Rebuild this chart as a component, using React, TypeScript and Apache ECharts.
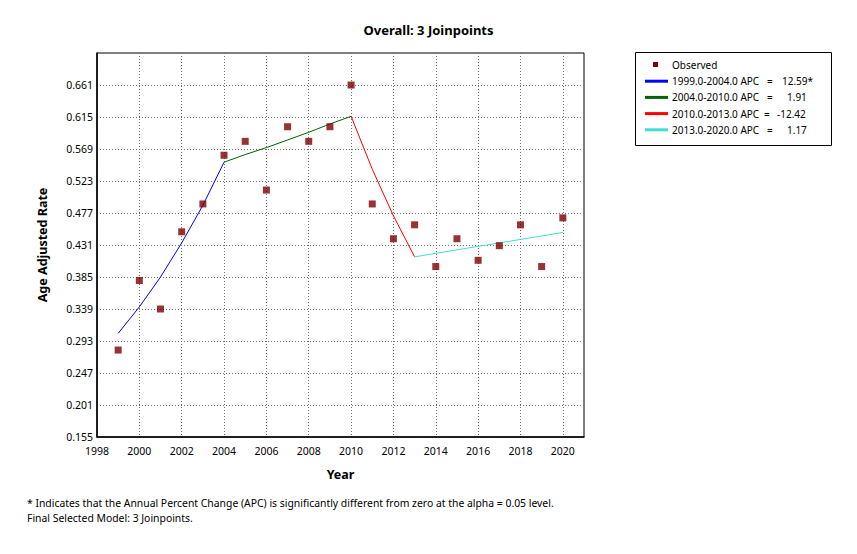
import React, { useEffect, useRef } from "react";
import * as echarts from "echarts";

const years = [1999, 2000, 2001, 2002, 2003, 2004, 2005, 2006, 2007, 2008, 2009, 2010, 2011, 2012, 2013, 2014, 2015, 2016, 2017, 2018, 2019, 2020];
const observed = [0.280, 0.380, 0.339, 0.450, 0.490, 0.560, 0.580, 0.510, 0.601, 0.580, 0.601, 0.661, 0.490, 0.440, 0.460, 0.400, 0.440, 0.409, 0.430, 0.460, 0.400, 0.470];

const seg1Years = [1999, 2000, 2001, 2002, 2003, 2004];
const seg1Fit = [0.304, 0.342, 0.385, 0.434, 0.488, 0.550];
const seg2Years = [2004, 2005, 2006, 2007, 2008, 2009, 2010];
const seg2Fit = [0.550, 0.561, 0.571, 0.582, 0.593, 0.605, 0.616];
const seg3Years = [2010, 2011, 2012, 2013];
const seg3Fit = [0.616, 0.540, 0.473, 0.414];
const seg4Years = [2013, 2014, 2015, 2016, 2017, 2018, 2019, 2020];
const seg4Fit = [0.414, 0.419, 0.424, 0.429, 0.434, 0.439, 0.444, 0.449];

const segPeriods = ["1999.0-2004.0", "2004.0-2010.0", "2010.0-2013.0", "2013.0-2020.0"];
const segApc = ["12.59*", "1.91", "-12.42", "1.17"];
const segColors = ["#0000ff", "#006400", "#ff0000", "#40e0d0"];

const xTicks = [1998, 2000, 2002, 2004, 2006, 2008, 2010, 2012, 2014, 2016, 2018, 2020];
const yTicks = [0.155, 0.201, 0.247, 0.293, 0.339, 0.385, 0.431, 0.477, 0.523, 0.569, 0.615, 0.661];

const titleText = "Overall: 3 Joinpoints";
const footnotes = [
  "* Indicates that the Annual Percent Change (APC) is significantly different from zero at the alpha = 0.05 level.",
  "Final Selected Model: 3 Joinpoints.",
];

const FONT = "'Noto Sans', 'Open Sans', sans-serif";

export default function App() {
  const ref = useRef<HTMLDivElement>(null);
  useEffect(() => {
    document.body.style.margin = "0";
    if (!ref.current) return;
    const chart = echarts.init(ref.current, null, { renderer: "svg" });

    const segs = [
      [seg1Years, seg1Fit],
      [seg2Years, seg2Fit],
      [seg3Years, seg3Fit],
      [seg4Years, seg4Fit],
    ];

    const legendX = 635;
    const legendY = 52;
    const rowH = 16.2;
    const legendFont = `10px ${FONT}`;
    const legendChildren: any[] = [
      {
        type: "rect",
        shape: { x: legendX + 0.5, y: legendY + 0.5, width: 196, height: 93 },
        style: { fill: "#fff", stroke: "#000", lineWidth: 1 },
      },
      {
        type: "rect",
        shape: { x: legendX + 18, y: legendY + 10, width: 5, height: 5 },
        style: { fill: "#800000" },
      },
      {
        type: "text",
        x: legendX + 37,
        y: legendY + 13,
        style: { text: "Observed", fill: "#000", font: legendFont, verticalAlign: "middle" },
      },
    ];
    segPeriods.forEach((p, i) => {
      const cy = legendY + 13 + rowH * (i + 1);
      const negative = segApc[i].startsWith("-");
      const wide = segApc[i].length > 4;
      legendChildren.push({
        type: "line",
        shape: { x1: legendX + 10, y1: cy, x2: legendX + 33, y2: cy },
        style: { stroke: segColors[i], lineWidth: 3 },
      });
      legendChildren.push({
        type: "text",
        x: legendX + 37,
        y: cy,
        style: { text: `${p} APC`, fill: "#000", font: legendFont, verticalAlign: "middle" },
      });
      legendChildren.push({
        type: "text",
        x: negative ? 764 : 767,
        y: cy,
        style: { text: "=", fill: "#000", font: legendFont, verticalAlign: "middle" },
      });
      legendChildren.push({
        type: "text",
        x: negative ? 777 : wide ? 782 : 787,
        y: cy,
        style: { text: segApc[i], fill: "#000", font: legendFont, verticalAlign: "middle" },
      });
    });

    const footChildren = footnotes.map((t, i) => ({
      type: "text",
      x: 27,
      y: 503 + i * 15,
      style: { text: t, fill: "#000", font: `10.4px ${FONT}`, verticalAlign: "middle" },
    }));

    const gridLine = { show: true, lineStyle: { color: "#6e6e6e", width: 1, type: [1, 2] } };

    chart.setOption({
      animation: false,
      backgroundColor: "#fff",
      title: {
        text: titleText,
        left: "center",
        top: 18,
        textStyle: { fontFamily: FONT, fontSize: 13, fontWeight: "bold", color: "#000" },
      },
      grid: {
        left: 97,
        right: 273,
        top: 53,
        bottom: 117,
        show: true,
        borderColor: "#000",
        borderWidth: 1,
        backgroundColor: "transparent",
      },
      xAxis: {
        type: "value",
        min: 1998,
        max: 2021,
        name: "Year",
        nameLocation: "middle",
        nameGap: 31,
        nameTextStyle: { fontFamily: FONT, fontSize: 12.5, fontWeight: "bold", color: "#000" },
        axisLine: { show: true, lineStyle: { color: "#000", width: 1.5 } },
        axisTick: { show: false, customValues: xTicks },
        axisLabel: {
          customValues: xTicks,
          color: "#000",
          fontFamily: FONT,
          fontSize: 10.5,
          margin: 8,
          formatter: (v: number) => String(Math.round(v)),
        },
        splitLine: gridLine,
      },
      yAxis: {
        type: "value",
        min: 0.155,
        max: 0.707,
        name: "Age Adjusted Rate",
        nameLocation: "middle",
        nameGap: 48,
        nameTextStyle: { fontFamily: FONT, fontSize: 12.5, fontWeight: "bold", color: "#000" },
        axisLine: { show: true, lineStyle: { color: "#000", width: 1.5 } },
        axisTick: { show: false, customValues: yTicks },
        axisLabel: {
          customValues: yTicks,
          color: "#000",
          fontFamily: FONT,
          fontSize: 10.5,
          margin: 4,
          formatter: (v: number) => v.toFixed(3),
        },
        splitLine: gridLine,
      },
      series: [
        ...segs.map((s, i) => ({
          type: "line",
          name: segPeriods[i],
          data: (s[0] as number[]).map((y, j) => [y, (s[1] as number[])[j]]),
          symbol: "none",
          lineStyle: { color: segColors[i], width: 1 },
          z: 2,
        })),
        {
          type: "scatter",
          name: "Observed",
          data: years.map((y, i) => [y, observed[i]]),
          symbol: "rect",
          symbolSize: 7,
          itemStyle: { color: "#800000" },
          z: 3,
        },
      ],
      graphic: [
        { type: "group", children: legendChildren },
        { type: "group", children: footChildren },
      ],
    });
    return () => chart.dispose();
  }, []);
  return <div ref={ref} style={{ width: 857, height: 554 }} />;
}
